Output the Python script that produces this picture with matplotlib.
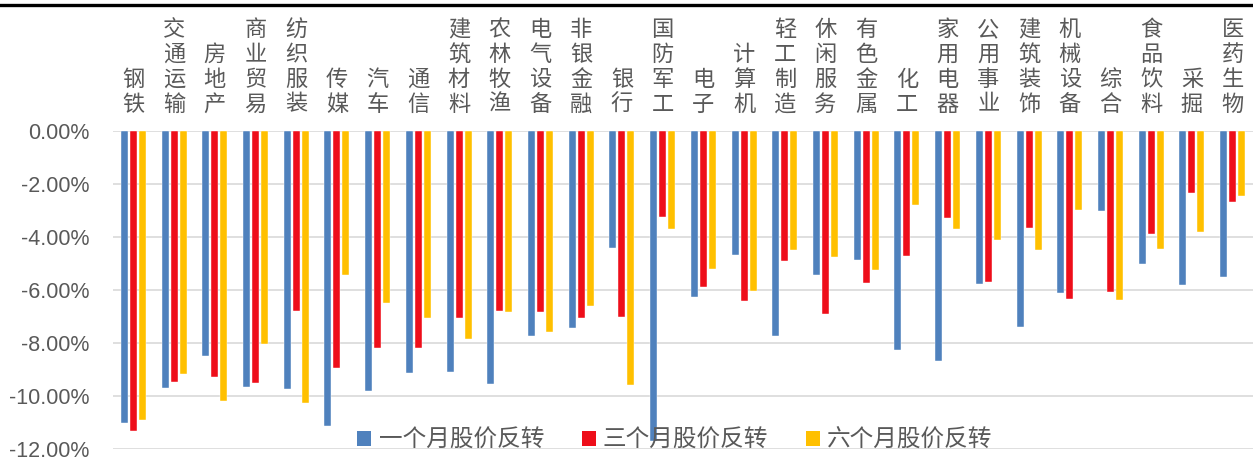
import matplotlib
matplotlib.use("Agg")
import matplotlib.pyplot as plt
import numpy as np
from matplotlib.patches import Patch
from matplotlib.lines import Line2D
from matplotlib.ticker import FuncFormatter

plt.rcParams['font.family'] = ['Noto Sans CJK SC', 'DejaVu Sans']

categories = ["钢铁", "交通运输", "房地产", "商业贸易", "纺织服装", "传媒", "汽车", "通信",
              "建筑材料", "农林牧渔", "电气设备", "非银金融", "银行", "国防军工", "电子", "计算机",
              "轻工制造", "休闲服务", "有色金属", "化工", "家用电器", "公用事业", "建筑装饰",
              "机械设备", "综合", "食品饮料", "采掘", "医药生物"]
one_month = [-11.02, -9.71, -8.50, -9.65, -9.74, -11.12, -9.82, -9.15,
             -9.10, -9.54, -7.75, -7.44, -4.40, -11.71, -6.28, -4.69,
             -7.74, -5.44, -4.86, -8.28, -8.67, -5.78, -7.39,
             -6.12, -3.00, -5.03, -5.80, -5.52]
three_month = [-11.31, -9.48, -9.30, -9.50, -6.78, -8.94, -8.18, -8.20,
               -7.04, -6.81, -6.83, -7.05, -7.02, -3.23, -5.90, -6.43,
               -4.92, -6.91, -5.73, -4.71, -3.27, -5.70, -3.67,
               -6.34, -6.07, -3.89, -2.35, -2.69]
six_month = [-10.92, -9.16, -10.18, -8.05, -10.25, -5.43, -6.48, -7.06,
             -7.86, -6.83, -7.58, -6.62, -9.59, -3.68, -5.19, -6.04,
             -4.50, -4.76, -5.24, -2.78, -3.68, -4.13, -4.50,
             -2.98, -6.36, -4.46, -3.83, -2.45]
series_names = ["一个月股价反转", "三个月股价反转", "六个月股价反转"]
colors = ["#4F81BD", "#EE0E1A", "#FFC000"]
yticks = [0, -2, -4, -6, -8, -10, -12]

W, H = 1253, 457
fig = plt.figure(figsize=(W / 100, H / 100), dpi=100)
ax = fig.add_axes([113 / W, 1 - 449 / H, 1 - 113 / W, (449 - 131) / H])

x = np.arange(len(categories))
offsets = [-0.221, 0, 0.221]
for vals, off, c in zip([one_month, three_month, six_month], offsets, colors):
    ax.bar(x + off, vals, width=0.175, color=c, zorder=3, edgecolor='white', linewidth=0.3)

ax.set_xlim(-0.5, len(categories) - 0.5)
ax.set_ylim(-12, 0)
ax.set_yticks(yticks)
ax.yaxis.set_major_formatter(FuncFormatter(lambda v, p: f"{v:.2f}%"))
ax.grid(axis='y', color='#D9D9D9', linewidth=1.2, zorder=0)
ax.set_axisbelow(True)
for s in ax.spines.values():
    s.set_visible(False)
ax.tick_params(axis='y', length=0, pad=17, labelsize=15.5, labelcolor='#595959')
for lab in ax.get_yticklabels():
    lab.set_fontfamily(['Liberation Sans', 'DejaVu Sans'])

ax.xaxis.tick_top()
ax.set_xticks(x)
ax.set_xticklabels(["\n".join(c) for c in categories])
ax.tick_params(axis='x', length=0, pad=11, labelsize=16, labelcolor='#595959')
for lab in ax.get_xticklabels():
    lab.set_linespacing(1.1)

handles = [Patch(facecolor=c, edgecolor='none') for c in colors]
leg = ax.legend(handles, series_names, loc='lower center', bbox_to_anchor=(0.493, -0.075),
                ncol=3, frameon=False, fontsize=17, handlelength=0.6, handleheight=0.6,
                handletextpad=0.3, columnspacing=1.6, labelcolor='#595959')

fig.add_artist(Line2D([0, 1], [1 - 5 / H, 1 - 5 / H], color='black', linewidth=2.4,
                      transform=fig.transFigure))

fig.savefig("out.png", dpi=100)
